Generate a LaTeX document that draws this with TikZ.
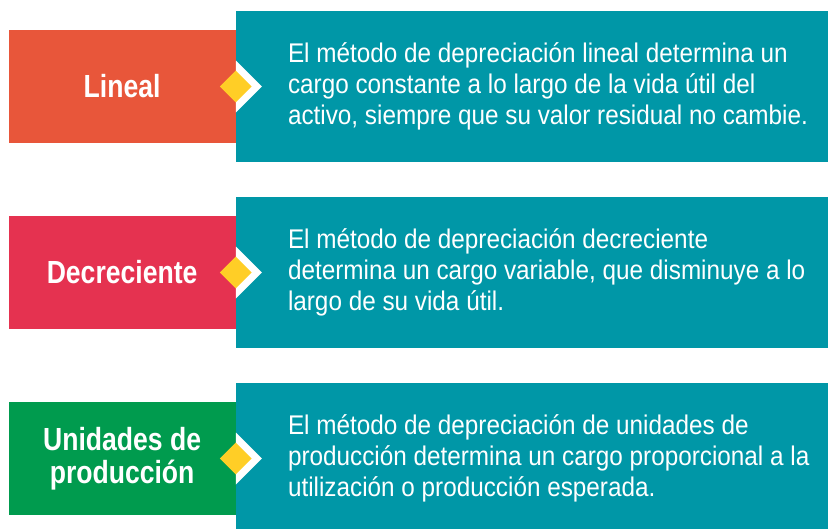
\documentclass[tikz,border=0pt]{standalone}
\usepackage{fontspec}
\setmainfont{Liberation Sans}[FakeStretch=0.9]
\newfontfamily\tagfont{Liberation Sans}[FakeStretch=0.83]
\usetikzlibrary{positioning, shapes.geometric}

\definecolor{linealred}{HTML}{E8563A}
\definecolor{decrred}{HTML}{E53250}
\definecolor{unidgreen}{HTML}{009B4E}
\definecolor{panelteal}{HTML}{0097A7}
\definecolor{gemyellow}{HTML}{FFCE26}

\begin{document}
\begin{tikzpicture}[x=1pt, y=-1pt,
	tag/.style={minimum width=227pt, minimum height=113pt, inner sep=0pt, text=white,
		font=\tagfont\bfseries\fontsize{32}{33}\selectfont, align=center},
	panel/.style={fill=panelteal, minimum width=592pt, minimum height=151pt, inner sep=0pt},
	desc/.style={text=white, font=\fontsize{27}{31}\selectfont, align=left, inner sep=0pt, anchor=west},
	gem/.style={diamond, fill=gemyellow, minimum size=32pt, inner sep=0pt}]
		%variables
		\def\pitch{186};
		\def\top{86.5};

		%frame
		\useasboundingbox (0,0) rectangle (828,528);
		\clip (0,0) rectangle (828,528);

		%lineal
		\node [panel] (panel1) at (532, \top) {};
		\node [tag, fill=linealred, left=0pt of panel1] (tag1) {Lineal};
		\fill [white] (panel1.west) ++(0,-26) -- ++(26,26) -- ++(-26,26) -- cycle;
		\node [gem] (gem1) at (panel1.west) {};
		\node [desc] (desc1) at ([xshift=52pt]panel1.west) {El método de depreciación lineal determina un\\
			cargo constante a lo largo de la vida útil del\\
			activo, siempre que su valor residual no cambie.};

		%decreciente
		\node [panel] (panel2) at (532, {\top+\pitch}) {};
		\node [tag, fill=decrred, left=0pt of panel2] (tag2) {Decreciente};
		\fill [white] (panel2.west) ++(0,-26) -- ++(26,26) -- ++(-26,26) -- cycle;
		\node [gem] (gem2) at (panel2.west) {};
		\node [desc] (desc2) at ([xshift=52pt]panel2.west) {El método de depreciación decreciente\\
			determina un cargo variable, que disminuye a lo\\
			largo de su vida útil.};

		%unidades de produccion
		\node [panel] (panel3) at (532, {\top+2*\pitch}) {};
		\node [tag, fill=unidgreen, left=0pt of panel3] (tag3) {Unidades de\\producción};
		\fill [white] (panel3.west) ++(0,-26) -- ++(26,26) -- ++(-26,26) -- cycle;
		\node [gem] (gem3) at (panel3.west) {};
		\node [desc] (desc3) at ([xshift=52pt]panel3.west) {El método de depreciación de unidades de\\
			producción determina un cargo proporcional a la\\
			utilización o producción esperada.};
	\end{tikzpicture}
\end{document}
